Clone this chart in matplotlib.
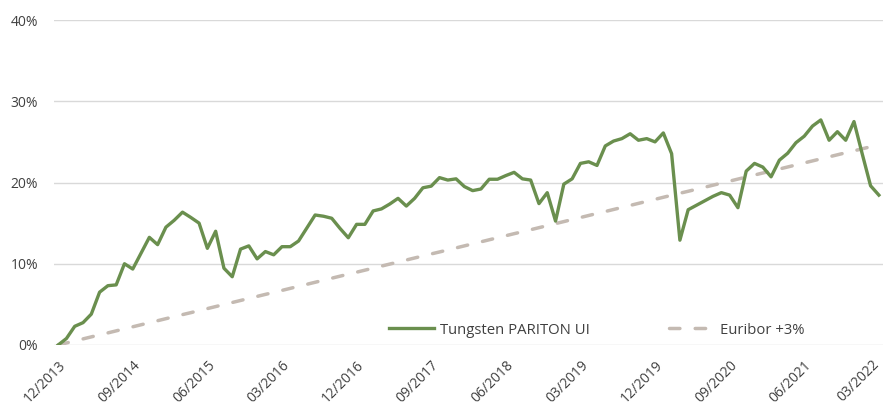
import numpy as np
import matplotlib
matplotlib.use("Agg")
import matplotlib.pyplot as plt

plt.rcParams["font.family"]=["Open Sans","DejaVu Sans"]

# monthly performance, 12/2013 .. 03/2022 (%)
tungsten=[
    0.0,0.8,2.3,2.75,3.8,6.5,7.3,7.4,10.0,9.35,
    11.3,13.25,12.35,14.5,15.35,16.35,15.7,15.0,11.9,14.0,
    9.45,8.4,11.8,12.2,10.6,11.5,11.1,12.1,12.1,12.8,
    14.4,16.0,15.85,15.6,14.35,13.2,14.85,14.85,16.5,16.75,
    17.35,18.05,17.1,18.05,19.35,19.55,20.6,20.3,20.45,19.5,
    19.0,19.2,20.4,20.4,20.85,21.25,20.45,20.3,17.4,18.75,
    15.25,19.8,20.45,22.35,22.55,22.1,24.5,25.1,25.4,26.0,
    25.2,25.4,25.0,26.1,23.55,12.9,16.65,17.2,17.75,18.3,
    18.75,18.45,16.9,21.4,22.35,21.9,20.7,22.75,23.6,24.9,
    25.7,26.95,27.7,25.2,26.25,25.2,27.5,23.5,19.6,18.45
]

euribor=[
    0.00,0.25,0.50,0.75,1.00,1.25,1.49,1.74,1.99,2.24,
    2.49,2.74,2.99,3.24,3.49,3.74,3.98,4.23,4.48,4.73,
    4.98,5.23,5.48,5.73,5.98,6.23,6.47,6.72,6.97,7.22,
    7.47,7.72,7.97,8.22,8.47,8.72,8.96,9.21,9.46,9.71,
    9.96,10.21,10.46,10.71,10.96,11.21,11.45,11.70,11.95,12.20,
    12.45,12.70,12.95,13.20,13.45,13.70,13.94,14.19,14.44,14.69,
    14.94,15.19,15.44,15.69,15.94,16.19,16.43,16.68,16.93,17.18,
    17.43,17.68,17.93,18.18,18.43,18.68,18.92,19.17,19.42,19.67,
    19.92,20.17,20.42,20.67,20.92,21.17,21.41,21.66,21.91,22.16,
    22.41,22.66,22.91,23.16,23.41,23.66,23.90,24.15,24.40,24.65
]

tick_labels=["12/2013","09/2014","06/2015","03/2016","12/2016","09/2017",
             "06/2018","03/2019","12/2019","09/2020","06/2021","03/2022"]

green="#6a8f4e"
beige="#c4bab2"
grid_col="#d9d9d9"
text_col="#404040"

months=np.arange(len(tungsten))

fig=plt.figure(figsize=(8.83,4.12),dpi=100)
ax=fig.add_axes([54/883,(412-345)/412,(883-54)/883,(345-20)/412])

ax.plot(months,tungsten,color=green,lw=2.4,solid_joinstyle="round",label="Tungsten PARITON UI",zorder=3)
ax.plot(months,euribor,color=beige,lw=2.5,dashes=(3.0,4.4),dash_capstyle="round",label="Euribor +3%",zorder=2)

ax.set_xlim(-0.5,len(tungsten)-0.5)
ax.set_ylim(0,40)

ax.set_yticks([0,10,20,30,40])
ax.set_yticklabels(["0%","10%","20%","30%","40%"])
ax.set_xticks(months[::9])
ax.set_xticklabels([])

# rotated date labels drawn by hand so the last one can be pulled in from the edge
for i,(m,lab) in enumerate(zip(months[::9],tick_labels)):
    dx=-5 if i==len(tick_labels)-1 else 0
    ax.annotate(lab,xy=(m,0),xycoords=("data","axes fraction"),xytext=(dx,-9),
                textcoords="offset points",rotation=45,ha="right",va="top",
                rotation_mode="anchor",fontsize=10,color=text_col,annotation_clip=False)

ax.tick_params(axis="both",length=0,labelsize=10,colors=text_col)
ax.tick_params(axis="y",pad=11.5)

ax.grid(axis="y",color=grid_col,lw=1)
ax.set_axisbelow(True)
for s in ax.spines.values():
    s.set_visible(False)

leg=fig.legend(loc="center",bbox_to_anchor=(597/883,1-330/412),ncol=2,frameon=False,
               fontsize=10.7,handlelength=3.0,handletextpad=0.45,columnspacing=5.3)
for t in leg.get_texts():
    t.set_color(text_col)

fig.savefig("out.png",dpi=100)
